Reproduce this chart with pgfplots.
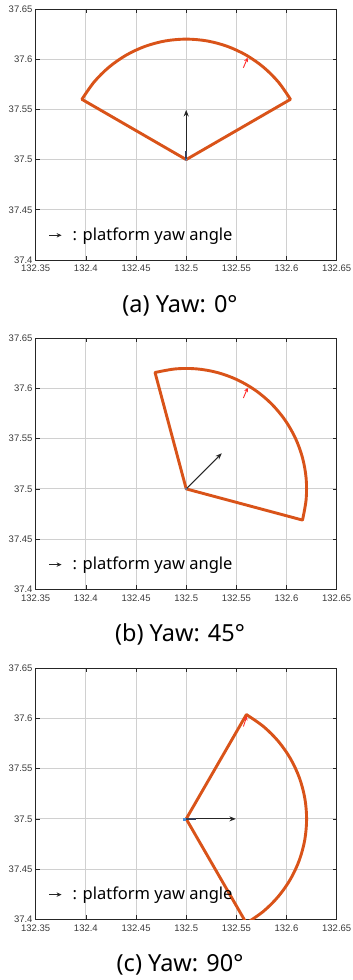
\documentclass[border=0pt]{standalone}
\usepackage{pgfplots}
\pgfplotsset{compat=1.18}
\usepackage{fontspec}
\setmainfont{Noto Sans}
\newfontfamily\tickfont{Liberation Sans}
\usetikzlibrary{arrows.meta}
\definecolor{matorange}{HTML}{D95319}
\definecolor{axgray}{HTML}{262626}
\definecolor{tkgray}{HTML}{3A3A3A}
\definecolor{gridgray}{HTML}{D0D0D0}
\definecolor{navy}{HTML}{34405A}
\definecolor{mblue}{HTML}{4A8FD9}
\definecolor{mred}{HTML}{FF2A2A}
\pgfplotsset{
  panel/.style={
    width=301pt, height=251pt, scale only axis,
    xmin=132.35, xmax=132.65, ymin=37.4, ymax=37.65,
    xtick={132.35,132.4,132.45,132.5,132.55,132.6,132.65},
    xticklabels={132.35,132.4,132.45,132.5,132.55,132.6,132.65},
    ytick={37.4,37.45,37.5,37.55,37.6,37.65},
    yticklabels={37.4,37.45,37.5,37.55,37.6,37.65},
    grid=major,
    major grid style={gridgray, line width=0.8pt},
    tick align=inside,
    major tick length=4pt,
    tick style={axgray, line width=0.7pt},
    axis line style={axgray, line width=0.8pt},
    ticklabel style={font=\tickfont\fontsize{9.5}{10}\selectfont, text=tkgray},
    xticklabel style={inner sep=1pt, yshift=-4pt},
    yticklabel style={inner sep=1pt, xshift=-2pt},
    clip=true,
  },
  sector/.style={matorange, line width=2.9pt, line join=round, line cap=round},
  arc/.style={matorange, line width=2.9pt, smooth, tension=0.55},
  yawarrow/.style={axgray, line width=1.15pt, -{Stealth[length=6.5pt,width=5pt]}},
  redarrow/.style={mred, line width=0.9pt, -{Stealth[length=4.5pt,width=4pt]}},
}
\newcommand{\legendtext}{%
  \addplot[axgray, line width=1.1pt, -{Stealth[length=5pt,width=4.5pt]}] coordinates {(132.3636,37.4246) (132.3758,37.4246)};
  \node[anchor=base west, inner sep=0pt, font=\fontsize{16.5}{18}\selectfont, text=black] at (axis cs:132.3865,37.4196) {: platform yaw angle};
}
\begin{document}
\begin{tikzpicture}
\useasboundingbox (0,0) rectangle (353pt,980pt);
% ---------- (a) ----------
\begin{axis}[panel, at={(35.7pt,720pt)}, anchor=south west]
\addplot[sector] coordinates {(132.396077,37.56) (132.5,37.5) (132.603923,37.56)};
\addplot[arc] coordinates {
(132.396077,37.56) (132.408075,37.577135) (132.422865,37.591925) (132.44,37.603923)
(132.458958,37.612763) (132.479162,37.618177) (132.5,37.62) (132.520838,37.618177)
(132.541042,37.612763) (132.56,37.603923) (132.577135,37.591925) (132.591925,37.577135)
(132.603923,37.56)};
\addplot[yawarrow] coordinates {(132.5,37.5) (132.5,37.5495)};
\addplot[navy, line width=1.8pt] coordinates {(132.5,37.5) (132.5,37.509)};
\addplot[mblue, only marks, mark=x, mark size=1.5pt] coordinates {(132.5,37.5)};
\addplot[redarrow] coordinates {(132.557,37.5915) (132.5613,37.6017)};
\legendtext
\end{axis}
\node[anchor=base, inner sep=0pt, font=\fontsize{23.5}{26}\selectfont] at (180pt,667.5pt) {(a) Yaw: 0°};
% ---------- (b) ----------
\begin{axis}[panel, at={(35.7pt,390.7pt)}, anchor=south west]
\addplot[sector] coordinates {(132.468942,37.615911) (132.5,37.5) (132.615911,37.468942)};
\addplot[arc] coordinates {
(132.468942,37.615911) (132.489541,37.619543) (132.510459,37.619543) (132.531058,37.615911)
(132.550714,37.608757) (132.568829,37.598298) (132.584853,37.584853) (132.598298,37.568829)
(132.608757,37.550714) (132.615911,37.531058) (132.619543,37.510459) (132.619543,37.489541)
(132.615911,37.468942)};
\addplot[yawarrow] coordinates {(132.5,37.5) (132.5355,37.5355)};
\addplot[mblue, only marks, mark=x, mark size=1.5pt] coordinates {(132.5,37.5)};
\addplot[redarrow] coordinates {(132.557,37.5905) (132.5613,37.6009)};
\legendtext
\end{axis}
\node[anchor=base, inner sep=0pt, font=\fontsize{23.5}{26}\selectfont] at (180pt,338.2pt) {(b) Yaw: 45°};
% ---------- (c) ----------
\begin{axis}[panel, at={(35.7pt,60.7pt)}, anchor=south west]
\addplot[sector] coordinates {(132.56,37.603923) (132.5,37.5) (132.56,37.396077)};
\addplot[arc] coordinates {
(132.56,37.603923) (132.577135,37.591925) (132.591925,37.577135) (132.603923,37.56)
(132.612763,37.541042) (132.618177,37.520838) (132.62,37.5) (132.618177,37.479162)
(132.612763,37.458958) (132.603923,37.44) (132.591925,37.422865) (132.577135,37.408075)
(132.56,37.396077)};
\addplot[yawarrow] coordinates {(132.5,37.5) (132.5495,37.5)};
\addplot[navy, line width=1.8pt] coordinates {(132.5,37.5) (132.51,37.5)};
\addplot[mblue, only marks, mark=square*, mark size=1pt] coordinates {(132.4985,37.5)};
\addplot[redarrow] coordinates {(132.557,37.592) (132.5605,37.6025)};
\legendtext
\end{axis}
\node[anchor=base, inner sep=0pt, font=\fontsize{23.5}{26}\selectfont] at (180pt,8.2pt) {(c) Yaw: 90°};
\end{tikzpicture}
\end{document}
